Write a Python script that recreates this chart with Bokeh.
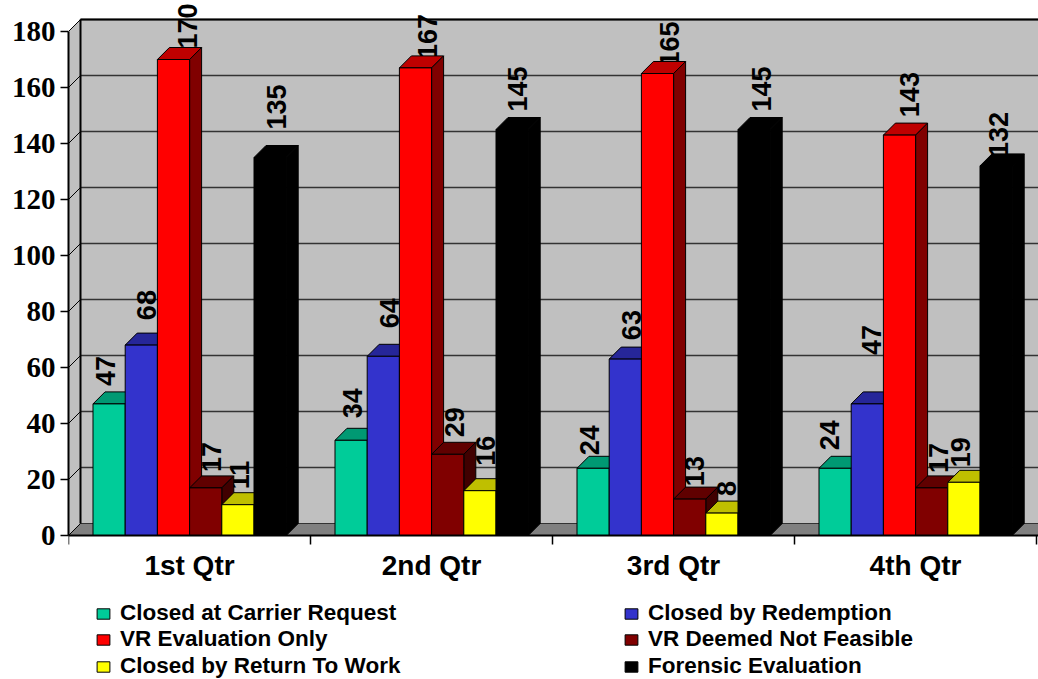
from bokeh.embed import file_html
from bokeh.resources import INLINE
from bokeh.plotting import figure
from bokeh.models import Range1d, FixedTicker, Legend, LegendItem, ColumnDataSource
from bokeh.core.properties import value
import math

quarters = ["1st Qtr", "2nd Qtr", "3rd Qtr", "4th Qtr"]
carrier = [47, 34, 24, 24]
redemption = [68, 64, 63, 47]
vr_only = [170, 167, 165, 143]
not_feasible = [17, 29, 13, 17]
return_work = [11, 16, 8, 19]
forensic = [135, 145, 145, 132]
y_ticks = [0, 20, 40, 60, 80, 100, 120, 140, 160, 180]

series = [
    ("Closed at Carrier Request", carrier, "#00CC99", "#009973", "#006B50"),
    ("Closed by Redemption", redemption, "#3333CC", "#262699", "#1A1A66"),
    ("VR Evaluation Only", vr_only, "#FF0000", "#BF0000", "#800000"),
    ("VR Deemed Not Feasible", not_feasible, "#800000", "#600000", "#400000"),
    ("Closed by Return To Work", return_work, "#FFFF00", "#BFBF00", "#808000"),
    ("Forensic Evaluation", forensic, "#000000", "#000000", "#000000"),
]
# screen nudges of the rotated value labels, per series then per quarter
label_dx = [[-4, 1, -4, -6], [5, 6, 6, 4], [14, 12, 12, 10], [6, 7, 5, 7], [2, 6, 5, -3], [6, 5, 7, 2]]
label_rise = [[48, 52, 43, 48], [55, 58, 49, 79], [56, 54, 52, 63], [46, 47, 43, 45], [44, 55, 32, 45], [73, 63, 63, 54]]

LEFT, BOTTOM, W, H = 68, 144, 1038, 679
PX_X, PX_Y = 242.0, 2.8          # pixels per quarter, pixels per value unit
DX, DY = 12 / PX_X, 12 / PX_Y    # 3-D depth in data units
BAR = 32.2 / PX_X
START = 24.5 / PX_X
XMAX = (W - LEFT) / PX_X
YMAX = (H - BOTTOM) / PX_Y
YMIN = -BOTTOM / PX_Y
TOP = y_ticks[-1]

p = figure(width=W, height=H, output_backend="svg", toolbar_location=None,
           x_range=Range1d(0, XMAX), y_range=Range1d(YMIN, YMAX),
           min_border_left=LEFT, min_border_bottom=0, min_border_top=0, min_border_right=0,
           outline_line_color=None, background_fill_color="#FFFFFF")
p.styles = {"position": "absolute", "left": "0px", "top": "0px"}
p.grid.visible = False

# axes
yax = p.yaxis[0]
yax.ticker = FixedTicker(ticks=y_ticks)
yax.bounds = (0, TOP)
yax.major_label_text_font = "Liberation Serif"
yax.major_label_text_font_style = "bold"
yax.major_label_text_font_size = "29px"
yax.major_label_text_color = "#000000"
yax.major_label_standoff = 5
yax.major_tick_out = 8
yax.major_tick_in = 0
yax.minor_tick_line_color = None
yax.axis_line_width = 2
yax.major_tick_line_width = 1.5
yax.major_tick_line_color = "#000000"
yax.axis_line_color = "#000000"

xax = p.xaxis[0]
xax.fixed_location = 0
xax.ticker = FixedTicker(ticks=[i + 0.5 for i in range(4)], minor_ticks=list(range(5)))
xax.major_label_overrides = {i + 0.5: q for i, q in enumerate(quarters)}
xax.major_label_text_font = "Liberation Sans"
xax.major_label_text_font_style = "bold"
xax.major_label_text_font_size = "28px"
xax.major_label_text_color = "#000000"
xax.major_label_standoff = 5
xax.major_tick_line_color = None
xax.minor_tick_out = 9
xax.minor_tick_in = 0
xax.minor_tick_line_color = "#000000"
xax.minor_tick_line_width = 1.5
xax.axis_line_width = 2
xax.axis_line_color = "#000000"

# walls and floor
p.quad(left=DX, right=XMAX, bottom=DY, top=TOP + DY, fill_color="#C0C0C0", line_color=None)
p.patch([0, DX, DX, 0], [0, DY, TOP + DY, TOP], fill_color="#C0C0C0", line_color=None)
p.patch([0, DX, XMAX, XMAX, 0], [0, DY, DY, 0, 0], fill_color="#808080", line_color="#333333", line_width=1)
p.segment(x0=[DX] * len(y_ticks[1:]), x1=[XMAX] * len(y_ticks[1:]),
          y0=[t + DY for t in y_ticks[1:]], y1=[t + DY for t in y_ticks[1:]],
          line_color="#333333", line_width=1.5)
p.segment(x0=[0] * len(y_ticks), x1=[DX] * len(y_ticks),
          y0=y_ticks, y1=[t + DY for t in y_ticks], line_color="#000000", line_width=1)
p.line([DX, DX], [DY, TOP + DY], line_color="#000000", line_width=2)
p.line([DX, XMAX], [TOP + DY, TOP + DY], line_color="#000000", line_width=2)

# value labels sit behind the bars
for s, (_, vals, *_c) in enumerate(series):
    xs = [g + START + BAR * (s + 0.5) for g in range(4)]
    src = ColumnDataSource(dict(x=xs, y=vals, t=[str(v) for v in vals],
                                xo=label_dx[s], yo=[-r for r in label_rise[s]]))
    p.text(x="x", y="y", text="t", x_offset="xo", y_offset="yo", source=src, angle=math.pi / 2,
           text_align="right", text_baseline="middle", text_color="#000000",
           text_font=value("Liberation Sans"), text_font_style="bold", text_font_size="27px")

# 3-D bars
fronts = {}
for s, (name, vals, front, top, side) in enumerate(series):
    l = [g + START + BAR * s for g in range(4)]
    r = [a + BAR for a in l]
    p.patches([[a, a + DX, b + DX, b] for a, b in zip(l, r)],
              [[v, v + DY, v + DY, v] for v in vals],
              fill_color=top, line_color="#000000", line_width=1)
    p.patches([[b, b + DX, b + DX, b] for b in r],
              [[0, DY, v + DY, v] for v in vals],
              fill_color=side, line_color="#000000", line_width=1)
    fronts[name] = p.quad(left=l, right=r, bottom=[0] * 4, top=vals,
                          fill_color=front, line_color="#000000", line_width=1)

# one legend per row, so that the row pitch is tighter than the text's own line height
for row, y in enumerate([53, 27, 0]):
    names = [series[2 * row][0], series[2 * row + 1][0]]
    lg = Legend(items=[LegendItem(label=n, renderers=[fronts[n]]) for n in names],
                location=(27, y), orientation="horizontal",
                background_fill_alpha=0, border_line_color=None,
                glyph_width=16, glyph_height=13, spacing=0,
                label_height=26, label_width=503, label_standoff=9, margin=0, padding=0,
                label_text_font="Liberation Sans", label_text_font_style="bold",
                label_text_font_size="22.5px", label_text_color="#000000")
    p.add_layout(lg, "center")

open("out.html", "w").write(file_html(p, INLINE))
